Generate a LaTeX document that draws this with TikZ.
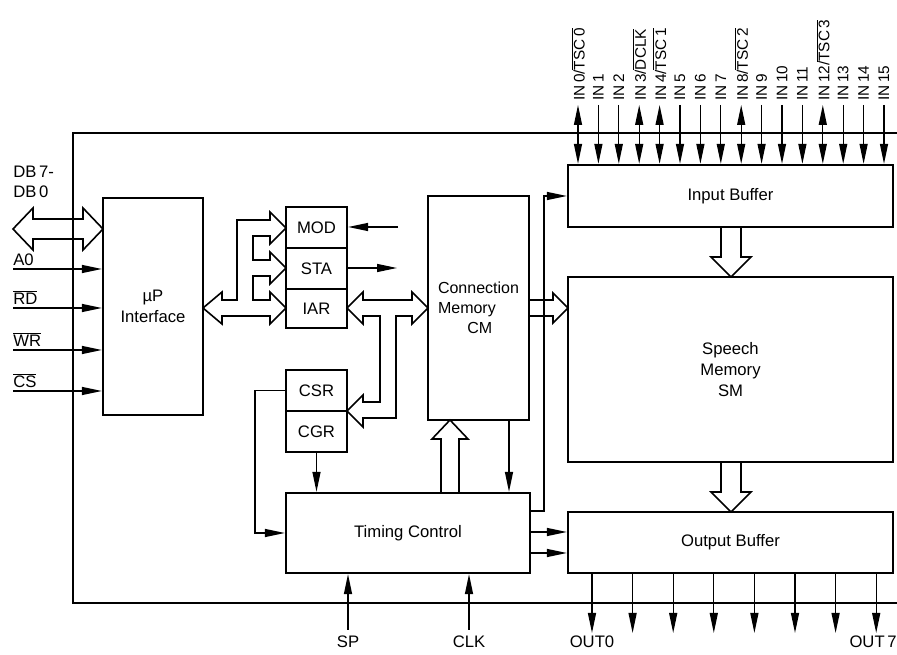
\documentclass[tikz,border=0pt]{standalone}
\usepackage{fontspec}
\setmainfont{Liberation Sans}
\usetikzlibrary{fit,calc,arrows.meta}
\newcommand{\ovl}[1]{$\overline{\mbox{#1}}$}
\tikzset{
  frame/.style={line width=2.2pt},
  blk/.style={draw, line width=1.7pt, inner sep=0pt, fit={#1}},
  sig/.style={line width=1pt, -{Triangle[length=15pt,width=6pt]}},
  bsig/.style={line width=1pt, {Triangle[length=15pt,width=6pt]}-{Triangle[length=15pt,width=6pt]}},
  bus/.style={line width=1.2pt, line join=miter},
  lbl/.style={inner sep=0pt, font=\fontsize{12.5}{15}\selectfont},
  txt/.style={inner sep=0pt, align=center, font=\fontsize{12.5}{16}\selectfont},
  inlbl/.style={inner sep=0pt, font=\fontsize{11.5}{12}\selectfont},
}
\begin{document}
\begin{tikzpicture}[x=0.75pt, y=-0.75pt]
\useasboundingbox (0,0) rectangle (897,655);

% 1. OUTER FRAME
\draw[frame] (897,133) -- (73,133) -- (73,603) -- (897,603);

% 2. BLOCKS
\node[blk={(103,198) (203,415)}] (up) {};
\node[blk={(286,207) (347,248)}] (mod) {};
\node[blk={(286,248) (347,289)}] (sta) {};
\node[blk={(286,289) (347,328)}] (iar) {};
\node[blk={(286,370) (347,411)}] (csr) {};
\node[blk={(286,411) (347,452)}] (cgr) {};
\node[blk={(428,196) (529,420)}] (cm) {};
\node[blk={(286,493) (530,573)}] (tc) {};
\node[blk={(568,165) (893,227)}] (ib) {};
\node[blk={(568,277) (893,462)}] (sm) {};
\node[blk={(568,512) (893,573)}] (ob) {};

% Block texts
\node[txt] (upt) at (up) {µP\\Interface};
\node[txt] (modt) at (mod) {MOD};
\node[txt] (stat) at (sta) {STA};
\node[txt] (iart) at (iar) {IAR};
\node[txt] (csrt) at (csr) {CSR};
\node[txt] (cgrt) at (cgr) {CGR};
\node[txt, align=left, font=\fontsize{12}{15}\selectfont] (cmt) at (cm)
  {Connection\\Memory\\\hspace*{22pt}CM};
\node[txt] (tct) at (tc) {Timing Control};
\node[txt] (ibt) at (ib) {Input Buffer};
\node[txt] (smt) at (sm) {Speech\\Memory\\SM};
\node[txt] (obt) at (ob) {Output Buffer};

% 3. DATA BUS DB7-DB0
\node[lbl, anchor=north west, align=left] (db) at (13,166) {DB\,7-\\DB\,0};
\draw[bus] (13,229) -- (33,208) -- (33,219) -- (83,219) -- (83,208) -- (103,229)
  -- (83,250) -- (83,239) -- (33,239) -- (33,250) -- cycle;

% Control inputs
\foreach \nm/\yy/\txt in {a0/269/A0, rd/308/\ovl{RD}, wr/350/\ovl{WR}, cs/391/\ovl{CS}} {
    \coordinate (\nm) at (13,\yy);
    \node[lbl, anchor=south west] at ($(\nm)+(0,-3)$) {\txt};
    \draw[sig] (\nm) -- (\nm -| up.west);
}

% 4. INTERNAL BUSES
% uP -> MOD / STA / IAR
\draw[bus] (222,300) -- (237,300) -- (237,220) -- (270,220) -- (270,212) -- (286,228)
  -- (270,244) -- (270,236) -- (253,236) -- (253,260) -- (270,260) -- (270,252)
  -- (286,268) -- (270,284) -- (270,276) -- (253,276) -- (253,300) -- (270,300)
  -- (270,292) -- (286,308) -- (270,324) -- (270,316) -- (222,316) -- (222,324)
  -- (203,308) -- (222,292) -- cycle;
% IAR <-> CM, CSR
\draw[bus] (363,300) -- (412,300) -- (412,292) -- (428,308) -- (412,324) -- (412,316)
  -- (396,316) -- (396,418) -- (363,418) -- (363,427) -- (347,411) -- (363,395)
  -- (363,402) -- (380,402) -- (380,316) -- (363,316) -- (363,324) -- (347,308)
  -- (363,292) -- cycle;
% Input Buffer -> SM
\draw[bus] (721,227) -- (721,257) -- (711,257) -- (731,277) -- (751,257) -- (741,257) -- (741,227);
% SM -> Output Buffer
\draw[bus] (721,462) -- (721,492) -- (711,492) -- (731,512) -- (751,492) -- (741,492) -- (741,462);
% CM -> SM
\draw[bus] (529,300) -- (553,300) -- (553,293) -- (568,308) -- (553,323) -- (553,316) -- (529,316);
% Timing Control -> CM
\draw[bus] (441,493) -- (441,439) -- (432,439) -- (450,420) -- (468,439) -- (459,439) -- (459,493);

% 5. CONTROL LINES
\coordinate (modin) at (398,227);
\coordinate (staout) at (397,268);
\draw[sig] (modin) -- (modin -| mod.east);
\draw[sig] (staout -| sta.east) -- (staout);
\draw[sig] (csr.west) -- ++(-30,0) |- (tc.west);
\draw[sig] (cgr.south) -- (cgr.south |- tc.north);
\coordinate (cmout) at (509,420);
\draw[sig] (cmout) -- (cmout |- tc.north);
\draw[sig] ($(tc.north east)+(0,19)$) -- ++(13,0) |- (ib.west);
\draw[sig] (tc.east |- 0,532) -- (ob.west |- 0,532);
\draw[sig] (tc.east |- 0,553) -- (ob.west |- 0,553);

% SP and CLK
\foreach \nm/\xx/\txt in {sp/348/SP, clk/469/CLK} {
    \coordinate (\nm) at (\xx,630);
    \draw[sig] (\nm) -- (\nm |- tc.south);
    \node[lbl, anchor=north] at ($(\nm)+(0,6)$) {\txt};
}

% 6. INPUT LINES IN0-IN15
\foreach \i/\txt/\tip in {0/{IN\,0/\ovl{TSC\,0}}/bsig, 1/{IN\,1}/sig, 2/{IN\,2}/sig,
    3/{IN\,3/\ovl{DCLK}}/bsig, 4/{IN\,4/\ovl{TSC\,1}}/bsig, 5/{IN\,5}/sig, 6/{IN\,6}/sig,
    7/{IN\,7}/sig, 8/{IN\,8/\ovl{TSC\,2}}/bsig, 9/{IN\,9}/sig, 10/{IN\,10}/sig,
    11/{IN\,11}/sig, 12/{IN\,12/\ovl{TSC\,3}}/bsig, 13/{IN\,13}/sig, 14/{IN\,14}/sig,
    15/{IN\,15}/sig} {
    \pgfmathsetmacro\xx{578+20.4*\i}
    \coordinate (in\i) at (\xx,105);
    \draw[\tip] (in\i) -- (in\i |- ib.north);
    \node[inlbl, rotate=90, anchor=west] at ($(in\i)+(0,-4)$) {\txt};
}

% 7. OUTPUT LINES OUT0-OUT7
\foreach \i in {0,...,7} {
    \pgfmathsetmacro\xx{592+40.6*\i}
    \coordinate (out\i) at (\xx,633);
    \draw[sig] (out\i |- ob.south) -- (out\i);
}
\node[lbl, anchor=north] at ($(out0)+(0,3)$) {OUT0};
\node[lbl, anchor=north east] at (897,636) {OUT\,7};

\end{tikzpicture}
\end{document}
